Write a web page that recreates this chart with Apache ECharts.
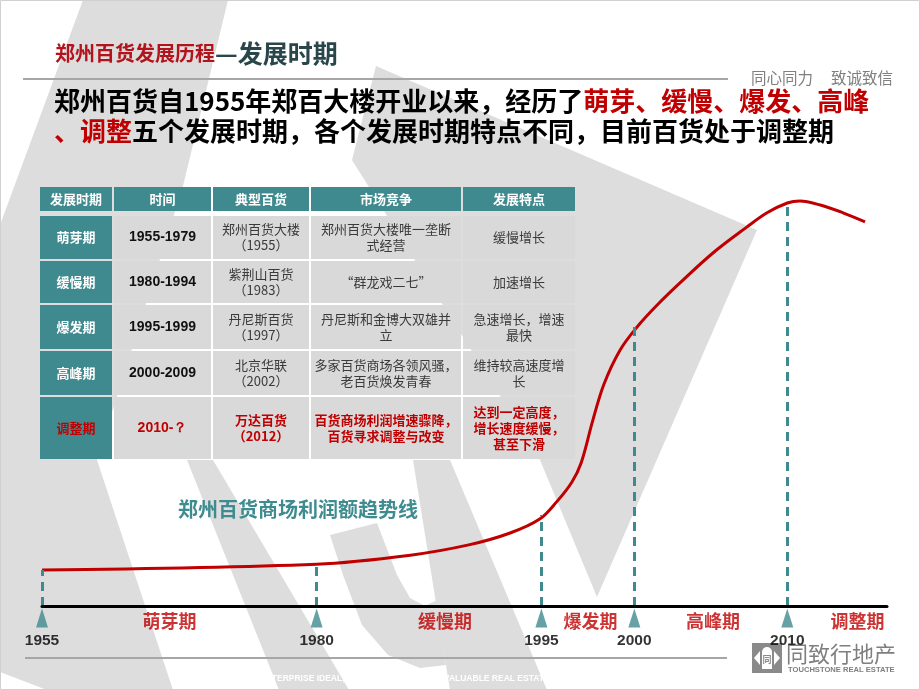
<!DOCTYPE html>
<html>
<head>
<meta charset="utf-8">
<title>郑州百货发展历程—发展时期</title>
<script src="https://cdn.jsdelivr.net/npm/echarts@6/dist/echarts.min.js"></script>
<style>
  html, body { margin: 0; padding: 0; background: #fff; }
  #main { width: 920px; height: 690px; }
</style>
</head>
<body>
<div id="main"></div>
<script>
// timeline milestones, x is the position along the (schematic) time axis, 0-100
const milestoneYears = ['1955', '1980', '1995', '2000', '2010'];
const milestonePos = [0, 32.5, 59.1, 70.1, 88.2];
const milestoneCurve = [8.8, 10.2, 22.2, 68.8, 98.3];

const periodNames = ['萌芽期', '缓慢期', '爆发期', '高峰期', '调整期'];
const periodPos = [15.1, 47.7, 64.9, 79.4, 96.5];

// profit trend line (relative height 0-100)
const profitX = [0, 32.5, 43.6, 50.5, 55.4, 58.9, 60.9, 62.7, 63.8, 65.2, 66.5, 68.4,
  70.4, 72.8, 75.5, 79.4, 83.4, 85.8, 88.2, 89.7, 92.1, 94.8, 97.4];
const profitY = [8.8, 10.2, 12.4, 14.9, 17.8, 21.2, 25.4, 30.2, 34.9, 45.4, 54.1, 62.4,
  68.0, 73.4, 78.8, 86.1, 92.4, 95.9, 98.3, 98.8, 97.8, 95.9, 93.7];

// table
const tableHeader = ['发展时期', '时间', '典型百货', '市场竞争', '发展特点'];
const timeRanges = ['1955-1979', '1980-1994', '1995-1999', '2000-2009', '2010-？'];
const stores = ['郑州百货大楼\n（1955）', '紫荆山百货\n（1983）', '丹尼斯百货\n（1997）',
  '北京华联\n（2002）', '万达百货\n（2012）'];
const competition = ['郑州百货大楼唯一垄断\n式经营', '“群龙戏二七”', '丹尼斯和金博大双雄并\n立',
  '多家百货商场各领风骚，\n老百货焕发青春', '百货商场利润增速骤降，\n百货寻求调整与改变'];
const features = ['缓慢增长', '加速增长', '急速增长，增速\n最快', '维持较高速度增\n长',
  '达到一定高度，\n增长速度缓慢，\n甚至下滑'];

const TEAL = '#3e8a8e';
const RED = '#c00000';
const CJK = "'Noto Sans CJK SC', 'Noto Sans', sans-serif";

// table layout (px inside the table grid)
const colEdges = [0, 74, 173, 271, 423, 537];
const rowSpans = [[0, 26], [29, 74], [74, 118], [118, 164], [164, 210], [210, 274]];
const columns = [periodNames, timeRanges, stores, competition, features];

const cells = [];
for (let r = 0; r < rowSpans.length; r++) {
  for (let c = 0; c < tableHeader.length; c++) cells.push([c, r]);
}

function renderCell(params, api) {
  const c = api.value(0), r = api.value(1);
  const p0 = api.coord([colEdges[c], rowSpans[r][0]]);
  const p1 = api.coord([colEdges[c + 1], rowSpans[r][1]]);
  const last = r === rowSpans.length - 1;
  const text = r === 0 ? tableHeader[c] : columns[c][r - 1];
  let fill = '#d9d9d9', color = '#3a3a3a', weight = 'normal', size = 13, family = CJK;
  if (r === 0 || c === 0) { fill = TEAL; color = '#fff'; weight = 'bold'; }
  if (c === 1 && r > 0) { weight = 'bold'; size = 14; family = "'Liberation Sans', Arial, sans-serif"; color = '#111'; }
  if (last && r > 0) { color = RED; weight = 'bold'; }
  return {
    type: 'group',
    children: [
      {
        type: 'rect',
        shape: { x: p0[0] + 1, y: p0[1] + 1, width: p1[0] - p0[0] - 2, height: p1[1] - p0[1] - 2 },
        style: { fill: fill }
      },
      {
        type: 'text',
        style: {
          text: text,
          x: (p0[0] + p1[0]) / 2,
          y: (p0[1] + p1[1]) / 2,
          align: 'center',
          verticalAlign: 'middle',
          fill: color,
          fontSize: size,
          fontWeight: weight,
          fontFamily: family,
          lineHeight: 16
        }
      }
    ]
  };
}

const WM = '#dddddd';
const watermark = [
  [[83, 0], [228, 0], [183, 186], [97, 460], [173, 690], [47, 690], [0, 672], [0, 225]],
  [[187, 460], [213, 460], [349, 690], [279, 690]],
  [[330, 535], [377, 523], [397, 575], [410, 598], [425, 606], [437, 600], [446, 665],
    [420, 668], [388, 655], [362, 625], [343, 575]],
  [[413, 460], [450, 460], [547, 690], [450, 690]],
  [[376, 66], [757, 230], [597, 597], [540, 460], [352, 160]]
];

const chart = echarts.init(document.getElementById('main'));

const option = {
  backgroundColor: '#ffffff',
  animation: false,
  textStyle: { fontFamily: CJK },
  title: [
    {
      left: 55, top: 41, padding: 0,
      text: '{a|郑州百货发展历程}{b|—发展时期}',
      textStyle: {
        rich: {
          a: { fontSize: 20, fontWeight: 'bold', color: '#b3141c', fontFamily: CJK },
          b: { fontSize: 25, fontWeight: 'bold', color: '#29474a', fontFamily: CJK }
        }
      }
    },
    {
      left: 54, top: 86, padding: 0,
      text: '{k|郑州百货自1955年郑百大楼开业以来，经历了}{r|萌芽、缓慢、爆发、高峰}\n{r|、调整}{k|五个发展时期，各个发展时期特点不同，目前百货处于调整期}',
      textStyle: {
        rich: {
          k: { fontSize: 26, fontWeight: 'bold', color: '#000', lineHeight: 30, fontFamily: CJK },
          r: { fontSize: 26, fontWeight: 'bold', color: RED, lineHeight: 30, fontFamily: CJK }
        }
      }
    },
    {
      left: 178, top: 499, padding: 0,
      text: '郑州百货商场利润额趋势线',
      textStyle: { fontSize: 20, fontWeight: 'bold', color: '#3f8c90', fontFamily: CJK }
    },
    {
      left: 751, top: 70, padding: 0,
      text: '同心同力',
      textStyle: { fontSize: 15.5, fontWeight: 'normal', color: '#7f7f7f', fontFamily: CJK }
    },
    {
      left: 831, top: 70, padding: 0,
      text: '致诚致信',
      textStyle: { fontSize: 15.5, fontWeight: 'normal', color: '#7f7f7f', fontFamily: CJK }
    }
  ],
  graphic: {
    elements: watermark.map(pts => ({
      type: 'polygon', z: 0, silent: true,
      shape: { points: pts },
      style: { fill: WM }
    })).concat([
      { type: 'line', z: 1, shape: { x1: 23, y1: 79, x2: 728, y2: 79 }, style: { stroke: '#a6a6a6', lineWidth: 2 } },
      { type: 'line', z: 1, shape: { x1: 25, y1: 658, x2: 727, y2: 658 }, style: { stroke: '#a6a6a6', lineWidth: 2 } },
      {
        type: 'text', z: 1,
        style: {
          text: 'ENTERPRISE IDEAL, TO CREATE THE MOST VALUABLE REAL ESTATE',
          x: 260, y: 679, verticalAlign: 'middle', fill: '#ffffff',
          font: "bold 8.5px 'Liberation Sans', Arial, sans-serif"
        }
      },
      {
        type: 'group', z: 1,
        children: [
          { type: 'rect', shape: { x: 752, y: 643, width: 30, height: 30 }, style: { fill: '#8a8a8a' } },
          { type: 'polygon', shape: { points: [[754, 658], [760, 651], [760, 665]] }, style: { fill: '#fff' } },
          { type: 'polygon', shape: { points: [[780, 658], [774, 651], [774, 665]] }, style: { fill: '#fff' } },
          { type: 'rect', shape: { x: 762, y: 647, width: 10, height: 22, r: [5, 5, 0, 0] }, style: { fill: '#fff' } },
          { type: 'text', style: { text: '同', x: 767, y: 660, align: 'center', verticalAlign: 'middle', fill: '#8a8a8a', font: "bold 9px 'Noto Sans CJK SC'" } },
          { type: 'text', style: { text: '同致行地产', x: 786, y: 654, verticalAlign: 'middle', fill: '#7f7f7f', font: "22px 'Noto Sans CJK SC'" } },
          { type: 'text', style: { text: 'TOUCHSTONE REAL ESTATE', x: 788, y: 670, verticalAlign: 'middle', fill: '#7f7f7f', font: "bold 7.6px 'Liberation Sans', Arial, sans-serif" } }
        ]
      },
      { type: 'rect', z: 1, shape: { x: 0.5, y: 0.5, width: 919, height: 689 }, style: { fill: 'none', stroke: '#d0d0d0', lineWidth: 1 } }
    ])
  },
  grid: [
    { left: 42, right: 33, top: 196, bottom: 84 },
    { left: 39, top: 186, width: 537, height: 274 }
  ],
  xAxis: [
    {
      type: 'value', min: 0, max: 100, z: 5,
      axisLine: { show: true, onZero: false, lineStyle: { color: '#000', width: 3 } },
      axisTick: { show: false }, axisLabel: { show: false }, splitLine: { show: false }
    },
    { type: 'value', gridIndex: 1, min: 0, max: 537, show: false, splitLine: { show: false } }
  ],
  yAxis: [
    { type: 'value', min: 0, max: 100, show: false, splitLine: { show: false } },
    { type: 'value', gridIndex: 1, min: 0, max: 274, inverse: true, show: false, splitLine: { show: false } }
  ],
  series: [
    {
      name: '利润额趋势线', type: 'line', xAxisIndex: 0, yAxisIndex: 0, z: 4,
      data: profitX.map((x, i) => [x, profitY[i]]),
      smooth: 0.35, symbol: 'none', silent: true,
      lineStyle: { color: RED, width: 3 },
      markLine: {
        silent: true, symbol: 'none', animation: false,
        label: { show: false },
        lineStyle: { color: TEAL, width: 3, type: [9, 6] },
        emphasis: { disabled: true },
        data: milestonePos.map((x, i) => [{ coord: [x, 0] }, { coord: [x, milestoneCurve[i]] }])
      }
    },
    {
      name: '节点', type: 'scatter', xAxisIndex: 0, yAxisIndex: 0, z: 6, silent: true,
      data: milestonePos.map(x => [x, 0]),
      symbol: 'triangle', symbolSize: [12, 19], symbolOffset: [0, 12],
      itemStyle: { color: TEAL }
    },
    {
      name: '年份', type: 'scatter', xAxisIndex: 0, yAxisIndex: 0, z: 6, silent: true,
      data: milestonePos.map(x => [x, 0]),
      symbolSize: 1, itemStyle: { color: 'rgba(0,0,0,0)' },
      label: {
        show: true, position: 'inside', offset: [0, 35],
        formatter: p => milestoneYears[p.dataIndex],
        color: '#000', fontSize: 15.5, fontWeight: 'bold',
        fontFamily: "'Liberation Sans', Arial, sans-serif"
      }
    },
    {
      name: '时期', type: 'scatter', xAxisIndex: 0, yAxisIndex: 0, z: 6, silent: true,
      data: periodPos.map(x => [x, 0]),
      symbolSize: 1, itemStyle: { color: 'rgba(0,0,0,0)' },
      label: {
        show: true, position: 'inside', offset: [0, 15],
        formatter: p => periodNames[p.dataIndex],
        color: RED, fontSize: 18, fontWeight: 'bold', fontFamily: CJK
      }
    },
    {
      name: '发展时期表', type: 'custom', xAxisIndex: 1, yAxisIndex: 1, z: 3, silent: true,
      renderItem: renderCell,
      data: cells
    }
  ]
};

chart.setOption(option);
</script>
</body>
</html>
